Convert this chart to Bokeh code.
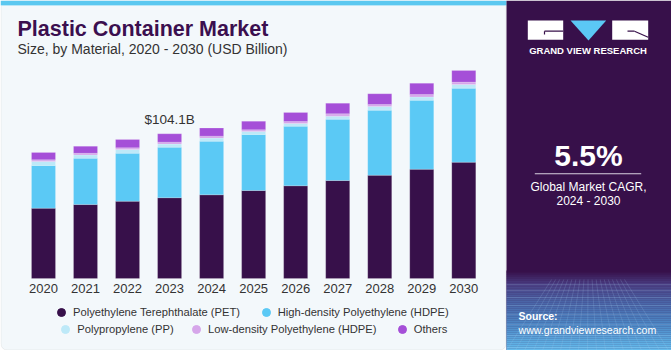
from bokeh.plotting import figure
from bokeh.models import (ColumnDataSource, Range1d, BoxAnnotation, Label,
                          PolyAnnotation, Arrow, Legend, LegendItem)
from bokeh.core.properties import value
from bokeh.embed import file_html
from bokeh.resources import INLINE

# ---------------- data ----------------
years = [2020, 2021, 2022, 2023, 2024, 2025, 2026, 2027, 2028, 2029, 2030]
year_labels = ["2020", "2021", "2022", "2023", "2024", "2025", "2026", "2027", "2028", "2029", "2030"]
pet = [50.6, 53.2, 55.6, 58.1, 60.2, 63.3, 66.7, 70.5, 74.3, 78.6, 83.7]
hdpe = [30.7, 33.3, 34.5, 36.4, 38.6, 40.3, 42.9, 44.1, 46.8, 49.6, 53.2]
pp = [2.9, 2.4, 2.7, 2.2, 2.2, 2.2, 1.9, 2.2, 2.7, 2.4, 2.7]
ldpe = [1.2, 1.2, 1.2, 1.4, 1.4, 1.2, 1.4, 1.7, 1.4, 1.7, 1.7]
others = [5.3, 5.0, 6.0, 6.0, 5.8, 6.1, 6.5, 7.6, 7.7, 8.1, 8.4]
series_names = ["Polyethylene Terephthalate (PET)", "High-density Polyethylene (HDPE)",
                "Polypropylene (PP)", "Low-density Polyethylene (HDPE)", "Others"]
colors = ["#37104a", "#5bc9f5", "#bde9f8", "#d6a6ea", "#a54fd8"]
highlight_year = 2023
highlight_label = "$104.1B"

FONT = "Liberation Sans"
W, H = 671, 350

p = figure(width=W, height=H, x_range=Range1d(2018.977, 2034.942), y_range=Range1d(-51.8, 200.0),
           output_backend="svg", toolbar_location=None, x_axis_location=None, y_axis_location=None,
           min_border_left=0, min_border_right=0, min_border_top=0, min_border_bottom=0)
p.border_fill_color = "#ffffff"
p.background_fill_color = "#ffffff"
p.outline_line_color = None
p.xgrid.grid_line_color = None
p.ygrid.grid_line_color = None


def sx(cx):
    return cx


def sy(cy):
    return H - cy


def box(x0, y0, x1, y1, fill, line=None, radius=0, alpha=1.0, level="underlay"):
    b = BoxAnnotation(left=sx(x0), right=sx(x1), top=sy(y0), bottom=sy(y1),
                      left_units="screen", right_units="screen",
                      top_units="screen", bottom_units="screen",
                      fill_color=fill, fill_alpha=alpha, line_color=line, level=level,
                      border_radius=radius)
    p.add_layout(b)
    return b


def seg(x0, y0, x1, y1, color, width=1.0, alpha=1.0):
    a = Arrow(x_start=sx(x0), y_start=sy(y0), x_end=sx(x1), y_end=sy(y1),
              start_units="screen", end_units="screen", start=None, end=None,
              line_color=color, line_width=width, line_alpha=alpha, level="underlay")
    p.add_layout(a)


def label(cx, cy, text, size, color, bold=False, align="left"):
    # cy = vertical middle of the text line (canvas px from top)
    lb = Label(x=sx(cx), y=sy(cy), x_units="screen", y_units="screen", text=text,
               text_font=FONT, text_font_size=size, text_color=color,
               text_font_style="bold" if bold else "normal", text_align=align,
               text_baseline="middle")
    p.add_layout(lb)


# ---------------- background panels ----------------
box(0.5, 0.5, 505.5, 349.5, "#f3f8fb", line="#cfcfcf", radius=6)
box(0, 0, 506, 4.5, "#5bc8f0")
box(0, 4.5, 506, 5.5, "#b9e6f7")

box(506, 0, 671, 350, "#37104a")


def hx(c):
    c = c.lstrip("#")
    return [int(c[i:i + 2], 16) for i in (0, 2, 4)]


stops = [(270, "#37104a"), (283, "#4a3f84"), (300, "#4a64a6"), (322, "#4c86c4"), (350, "#66bff0")]
yy = 270
while yy < 350:
    for (ya, ca), (yb, cb) in zip(stops[:-1], stops[1:]):
        if ya <= yy < yb:
            t = (yy - ya) / (yb - ya)
            a, b2 = hx(ca), hx(cb)
            rgb = [round(a[k] + (b2[k] - a[k]) * t) for k in range(3)]
            box(506, yy, 671, yy + 2.2, "#%02x%02x%02x" % tuple(rgb))
            break
    yy += 2

# faint perspective grid at the bottom of the dark panel
for gy in [284, 290, 297, 305, 314, 324, 335, 347]:
    seg(506, gy, 671, gy, "#a9cdf0", 0.6, 0.35)
for gx in range(506, 675, 9):
    seg(588 + (gx - 588) * 0.45, 279, gx, 350, "#a9cdf0", 0.6, 0.3)

# ---------------- logo ----------------
box(527.3, 20, 562.7, 39.3, "#ffffff")
p.add_layout(PolyAnnotation(xs=[sx(570), sx(605.7), sx(588)], ys=[sy(20), sy(20), sy(40)],
                            xs_units="screen", ys_units="screen", fill_color="#5bc8f5",
                            fill_alpha=1, line_color=None, level="underlay"))
box(611.7, 20, 647.7, 39.3, "#ffffff")
seg(544, 30.7, 562.7, 30.7, "#37104a", 1.2)
seg(544, 30.7, 544, 34, "#37104a", 1.2)
seg(627, 30.7, 634, 30.7, "#37104a", 1.2)
seg(634, 30.7, 647.7, 36.7, "#37104a", 1.2)

label(587.5, 50.2, "GRAND VIEW RESEARCH", "9.5px", "#ffffff", bold=True, align="center")

# ---------------- right panel text ----------------
label(588, 155, "5.5%", "30px", "#ffffff", bold=True, align="center")
box(534.3, 172.8, 640.7, 173.8, "#d9d0e0", level="annotation")
label(588, 186, "Global Market CAGR,", "12px", "#ffffff", align="center")
label(588, 200, "2024 - 2030", "12px", "#ffffff", align="center")
label(518, 315.6, "Source:", "10.5px", "#ffffff", bold=True)
label(518, 329, "www.grandviewresearch.com", "10.6px", "#ffffff")

# ---------------- titles ----------------
label(17, 28, "Plastic Container Market", "21.5px", "#3b0f4f", bold=True)
label(17, 48.5, "Size, by Material, 2020 - 2030 (USD Billion)", "14px", "#333333")

# ---------------- bars ----------------
src = ColumnDataSource(dict(year=years, lbl=year_labels, base=[0] * len(years),
                            pet=pet, hdpe=hdpe, pp=pp, ldpe=ldpe, others=others))
stackers = ["pet", "hdpe", "pp", "ldpe", "others"]
bars = p.vbar_stack(stackers, x="year", width=0.571, color=colors, source=src,
                    line_color="#ffffff", line_alpha=0.35, line_width=0.5)

# category (year) labels along the baseline
p.text(x="year", y="base", text="lbl", source=src, y_offset=10, text_align="center",
       text_baseline="middle", text_font=value(FONT), text_font_size="13px",
       text_color="#333333")

idx = years.index(highlight_year)
tot = round(pet[idx] + hdpe[idx] + pp[idx] + ldpe[idx] + others[idx], 1)
p.text(x=[highlight_year], y=[tot], text=[highlight_label], y_offset=-14, text_align="center",
       text_baseline="middle", text_font=value(FONT), text_font_size="13.5px",
       text_color="#333333")

# ---------------- legend ----------------
legend_pos = [(51, 27.7), (255.7, 27.7), (55.3, 11), (186, 11), (391.7, 11)]
for name, col, (vx, vy) in zip(series_names, colors, legend_pos):
    # off-canvas point: only used as the legend swatch
    r = p.scatter(x=[2050], y=[500], marker="circle", size=9, fill_color=col, line_color=col)
    lg = Legend(items=[LegendItem(label=name, renderers=[r])], location=(vx, vy),
                orientation="horizontal", padding=0, margin=0, spacing=0,
                glyph_width=20, glyph_height=20, label_height=20, label_standoff=2,
                label_text_font=FONT, label_text_font_size="11.2px",
                label_text_color="#333333", border_line_color=None,
                background_fill_alpha=0)
    p.add_layout(lg, "center")

open("out.html", "w").write(file_html(p, INLINE))
